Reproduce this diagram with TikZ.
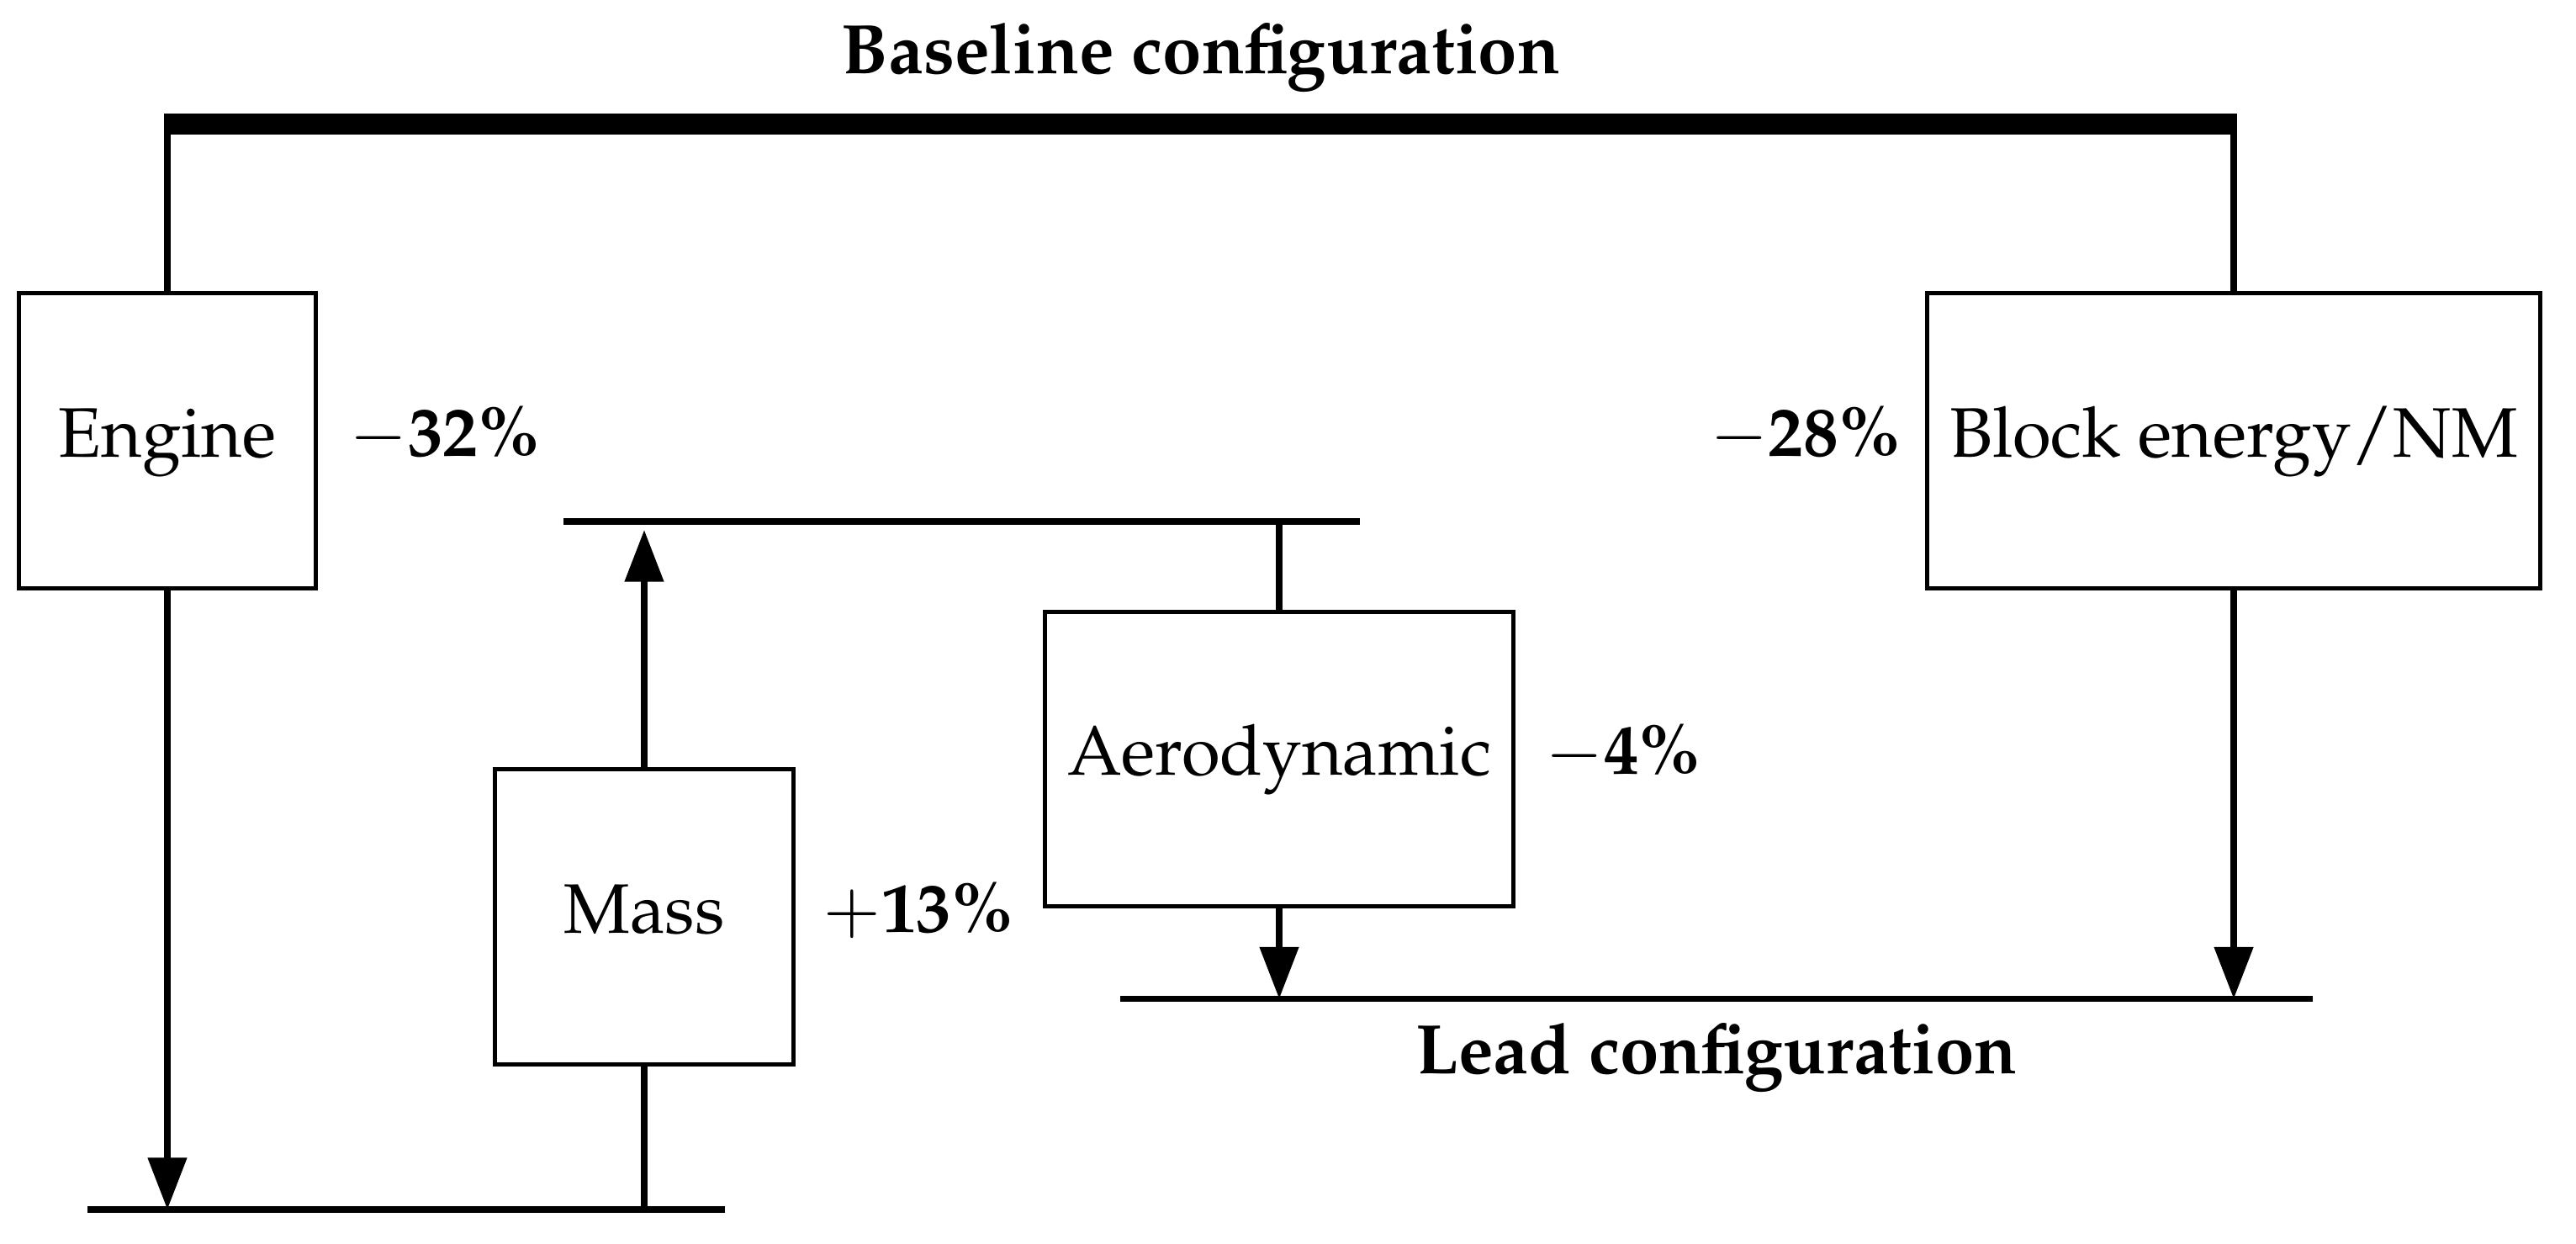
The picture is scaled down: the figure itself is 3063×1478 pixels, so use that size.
\documentclass[tikz,border=0pt]{standalone}
\usepackage[T1]{fontenc}
\usepackage{mathpazo}
\usetikzlibrary{arrows.meta}
\begin{document}
\begin{tikzpicture}[x=0.12pt,y=-0.12pt, font=\fontsize{10}{12}\selectfont,
  box/.style={draw, line width=0.6pt, inner sep=0pt, text height=4.6pt, text depth=0pt, minimum height=42pt},
  conn/.style={line width=0.95pt},
  bar/.style={line width=0.9pt},
  topbar/.style={line width=3pt},
  arr/.style={conn, -{Triangle[length=7.4pt,width=5.4pt]}},
  lbl/.style={inner sep=0pt, anchor=base west},
  ttl/.style={inner sep=0pt, anchor=base, font=\fontsize{10}{12}\selectfont\bfseries}]
\useasboundingbox (0,0) rectangle (3063,1478);

% boxes
\node[box, minimum width=42.4pt] (engine) at (199,524) {Engine};
\node[box, minimum width=87.5pt] (block) at (2656,524) {Block energy/NM};
\node[box, minimum width=66.8pt] (aero) at (1521,902) {Aerodynamic};
\node[box, minimum width=42.6pt, minimum height=42.2pt] (mass) at (766,1090) {Mass};

% bars
\coordinate (tbL) at (195,147.5);
\coordinate (tbR) at (2660,147.5);
\coordinate (mbL) at (670,620);
\coordinate (mbR) at (1617,620);
\coordinate (lbL) at (1332,1187.5);
\coordinate (lbR) at (2750,1187.5);
\coordinate (bbL) at (103.5,1438);
\coordinate (bbR) at (861.5,1438);
\coordinate (mtip) at (766,630);

\draw[topbar] (tbL) -- (tbR);
\draw[bar] (mbL) -- (mbR);
\draw[bar] (lbL) -- (lbR);
\draw[bar] (bbL) -- (bbR);

% connectors
\draw[conn] (engine.north |- tbL) -- (engine.north);
\draw[conn] (block.north |- tbL) -- (block.north);
\draw[arr] (engine.south) -- (engine.south |- bbL);
\draw[arr] (block.south) -- (block.south |- lbL);
\draw[conn] (aero.north |- mbL) -- (aero.north);
\draw[arr] (aero.south) -- (aero.south |- lbL);
\draw[arr] (mass.north) -- (mass.north |- mtip);
\draw[conn] (mass.south) -- (mass.south |- bbL);

% labels
\node[lbl] (p32) at (414,542) {$-$\textbf{32\%}};
\node[lbl, anchor=base east] (p28) at (2262,542) {$-$\textbf{28\%}};
\node[lbl] (p4) at (1836,920) {$-$\textbf{4\%}};
\node[lbl] (p13) at (977,1108) {$+$\textbf{13\%}};

\node[ttl] (base) at (1428,88) {Baseline configuration};
\node[ttl] (lead) at (2041,1276) {Lead configuration};
\end{tikzpicture}
\end{document}
